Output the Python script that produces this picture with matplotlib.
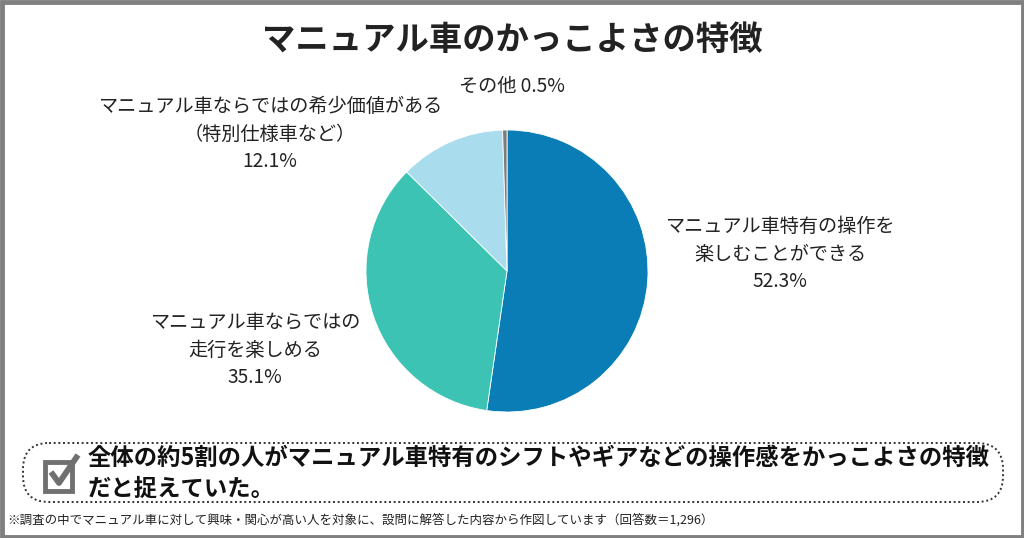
import matplotlib
matplotlib.use("Agg")
import matplotlib.pyplot as plt
from matplotlib.patches import FancyBboxPatch, Rectangle

plt.rcParams['font.family'] = ['Noto Sans CJK JP', 'DejaVu Sans']

# --- データ ---
TITLE = 'マニュアル車のかっこよさの特徴'
CATEGORIES = ['マニュアル車特有の操作を\n楽しむことができる',
              'マニュアル車ならではの\n走行を楽しめる',
              'マニュアル車ならではの希少価値がある\n（特別仕様車など）',
              'その他']
VALUES = [52.3, 35.1, 12.1, 0.5]
COLORS = ['#0a7cb6', '#3cc3b3', '#a9ddee', '#7b7b7b']
SUMMARY = ['全体の約5割の人がマニュアル車特有のシフトやギアなどの操作感をかっこよさの特徴',
           'だと捉えていた。']
NOTE = '※調査の中でマニュアル車に対して興味・関心が高い人を対象に、設問に解答した内容から作図しています（回答数＝1,296）'

W, H = 1024, 538


def main():
    fig = plt.figure(figsize=(W / 100, H / 100), dpi=100)

    # ピクセル座標のオーバーレイ
    ov = fig.add_axes([0, 0, 1, 1])
    ov.set_xlim(0, W)
    ov.set_ylim(H, 0)
    ov.axis('off')

    # 外枠
    ov.add_patch(Rectangle((1.5, 1.5), W - 3, H - 3, fill=False,
                           edgecolor='#808080', linewidth=3.5))

    ov.text(512, 40, TITLE, ha='center', va='center',
            fontsize=24, fontweight='bold', color='#222222')

    # 円グラフ
    cx, cy, r = 507, 271, 141
    ax = fig.add_axes([(cx - r) / W, 1 - (cy + r) / H, (2 * r) / W, (2 * r) / H])
    ax.pie(VALUES, colors=COLORS, startangle=90, counterclock=False,
           wedgeprops=dict(edgecolor='white', linewidth=0.6))
    ax.set_xlim(-1, 1)
    ax.set_ylim(-1, 1)
    ax.set_aspect('auto')
    ax.axis('off')

    # ラベル
    lab = dict(ha='center', va='center', fontsize=13.8, color='#222222', linespacing=1.4)
    ov.text(780, 254, f'{CATEGORIES[0]}\n{VALUES[0]}%', **lab)
    ov.text(255, 350, f'{CATEGORIES[1]}\n{VALUES[1]}%', **lab)
    ov.text(270, 134, f'{CATEGORIES[2]}\n{VALUES[2]}%', **lab)
    ov.text(512, 86, f'{CATEGORIES[3]} {VALUES[3]}%', **lab)

    # まとめボックス
    ov.add_patch(FancyBboxPatch((23, 443), 980, 59,
                                boxstyle='round,pad=0,rounding_size=26',
                                fill=False, edgecolor='#333333', linewidth=1.4,
                                linestyle=(0, (1, 1.4))))

    # チェックボックス
    ov.add_patch(Rectangle((45, 462), 27, 29, fill=False,
                           edgecolor='#707070', linewidth=3.5))
    ov.plot([51, 59, 78], [472, 483, 455], color='#707070',
            linewidth=4.2, solid_capstyle='butt')

    ov.text(88, 458, SUMMARY[0], ha='left', va='center',
            fontsize=16.8, fontweight='bold', color='#111111')
    ov.text(88, 489, SUMMARY[1], ha='left', va='center',
            fontsize=16.8, fontweight='bold', color='#111111')

    ov.text(7, 520, NOTE, ha='left', va='center', fontsize=9, color='#222222')

    plt.savefig('out.png', dpi=100)


if __name__ == "__main__":
    main()
